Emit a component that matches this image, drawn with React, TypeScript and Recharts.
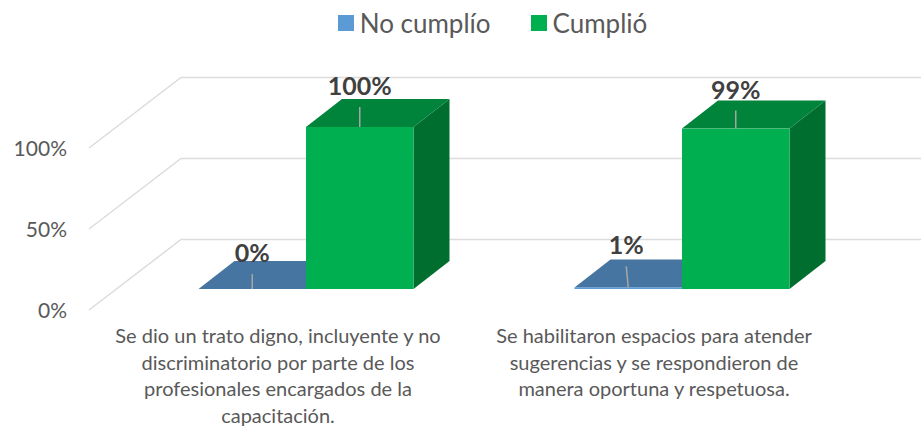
import React from "react";
import { BarChart, Bar, XAxis, YAxis, CartesianGrid, Legend, LabelList } from "recharts";

// Values
const categories = [
  "Se dio un trato digno, incluyente y no\ndiscriminatorio por parte de los\nprofesionales encargados de la\ncapacitación.",
  "Se habilitaron espacios para atender\nsugerencias y se respondieron de\nmanera oportuna y respetuosa.",
];
const noCumplio = [0, 1];
const cumplio = [100, 99];
const yTicks = [0, 50, 100];

const data = categories.map((name, i) => ({ name, noCumplio: noCumplio[i], cumplio: cumplio[i] }));

const FONT = "Lato, Carlito, Calibri, sans-serif";
const GRID = "#dcdcdc";
const DEPTH_X = 36;
const DEPTH_Y = 28;

// label baseline above each bar top, per category
const blueRise = [27, 33];
const greenRise = [32, 30];

// the fake 3D box: front, top and side faces around the plain bar rect
function Box3D({ x, y, width, height, front, top, side }: any) {
  const r = x + width;
  const b = y + height;
  return (
    <g>
      <polygon points={`${r},${y} ${r + DEPTH_X},${y - DEPTH_Y} ${r + DEPTH_X},${b - DEPTH_Y} ${r},${b}`} fill={side} />
      <polygon points={`${x},${y} ${x + DEPTH_X},${y - DEPTH_Y} ${r + DEPTH_X},${y - DEPTH_Y} ${r},${y}`} fill={top} />
      <rect x={x} y={y} width={width} height={Math.max(height, 0)} fill={front} />
    </g>
  );
}

// floor/wall line: diagonal on the side wall, then straight along the back wall
function WallLine({ x1, y1 }: any) {
  const sx = x1 - 28.5;
  const bx = x1 + 63.5;
  return (
    <polyline
      points={`${sx},${y1 + 21} ${bx},${y1 - 49.5} 921,${y1 - 49.5}`}
      fill="none"
      stroke={GRID}
      strokeWidth={1.5}
    />
  );
}

function YTick({ y, payload }: any) {
  return (
    <text x={67} y={y + 21} dy={8} textAnchor="end" fontFamily={FONT} fontSize={21} fill="#595959">
      {payload.value}%
    </text>
  );
}

function XTick({ x, payload }: any) {
  const lines = String(payload.value).split("\n");
  return (
    <text textAnchor="middle" fontFamily={FONT} fontSize={20} fill="#595959">
      {lines.map((line, i) => (
        <tspan key={i} x={x - 27.5} y={343 + i * 26.7}>
          {line}
        </tspan>
      ))}
    </text>
  );
}

// leader line on the top face plus the bold value above it
function DataLabel({ x, y, width, value, rise, lean }: any) {
  const cx = x + width / 2;
  return (
    <g>
      <line x1={cx - lean} y1={y - rise + 12} x2={cx} y2={y} stroke="#a6a6a6" strokeWidth={1.5} />
      <text x={cx - lean} y={y - rise} textAnchor="middle" fontFamily={FONT} fontWeight={700} fontSize={25} fill="#404040">
        {value}%
      </text>
    </g>
  );
}

function LegendBox({ payload }: any) {
  return (
    <div style={{ display: "flex", justifyContent: "center", alignItems: "center", fontFamily: FONT, fontSize: 26, color: "#595959" }}>
      {payload.map((p: any, i: number) => (
        <div key={p.value} style={{ display: "flex", alignItems: "center", marginLeft: i ? 40 : 0 }}>
          <span style={{ width: 16, height: 16, background: p.color, marginRight: 6 }} />
          {p.value}
        </div>
      ))}
    </div>
  );
}

export default function App() {
  return (
    <div style={{ position: "absolute", left: 0, top: 0, background: "#fff" }}>
      <BarChart
        width={921}
        height={426}
        data={data}
        barSize={107.5}
        barGap={0}
        margin={{ top: 127, right: 51.5, bottom: 0, left: 0 }}
      >
        <CartesianGrid vertical={false} horizontal={(p: any) => <WallLine key={p.index} {...p} />} />
        <XAxis dataKey="name" interval={0} height={137} axisLine={false} tickLine={false} tick={XTick} />
        <YAxis width={117.5} domain={[0, 100]} ticks={yTicks} axisLine={false} tickLine={false} tick={YTick} />
        <Legend
          verticalAlign="middle"
          itemSorter={null}
          content={LegendBox}
          wrapperStyle={{ top: 7, left: 0, width: 985 }}
        />
        <Bar
          dataKey="noCumplio"
          name="No cumplío"
          fill="#5b9bd5"
          isAnimationActive={false}
          shape={(p: any) => <Box3D {...p} front="#5b9bd5" top="#4675a1" side="#3d6a94" />}
        >
          <LabelList dataKey="noCumplio" content={(p: any) => <DataLabel {...p} rise={blueRise[p.index]} lean={p.index === 1 ? 2 : 0} />} />
        </Bar>
        <Bar
          dataKey="cumplio"
          name="Cumplió"
          fill="#00b050"
          isAnimationActive={false}
          shape={(p: any) => <Box3D {...p} front="#00b050" top="#00843c" side="#006e2f" />}
        >
          <LabelList dataKey="cumplio" content={(p: any) => <DataLabel {...p} rise={greenRise[p.index]} lean={0} />} />
        </Bar>
      </BarChart>
    </div>
  );
}
